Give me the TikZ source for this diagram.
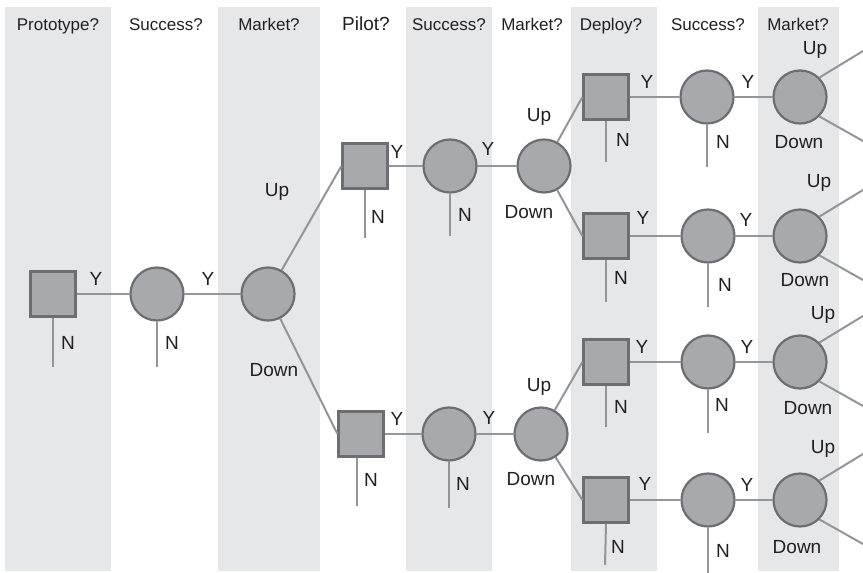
\documentclass[tikz,border=0pt]{standalone}
\usepackage{fontspec}
\setmainfont{Liberation Sans}
\usetikzlibrary{calc}
\definecolor{bandgray}{HTML}{E6E7E8}
\definecolor{nodefill}{HTML}{A7A9AC}
\definecolor{nodeline}{HTML}{6D6E71}
\definecolor{linkgray}{HTML}{939598}
\definecolor{ink}{HTML}{231F20}

\begin{document}
\begin{tikzpicture}[x=1pt,y=-1pt,
  decision/.style={rectangle, draw=nodeline, fill=nodefill, line width=2.2pt,
                   minimum size=45pt, inner sep=0pt},
  chance/.style={circle, draw=nodeline, fill=nodefill, line width=2.2pt,
                 minimum size=53pt, inner sep=0pt},
  link/.style={draw=linkgray, line width=2pt},
  hdr/.style={text=ink, font=\fontsize{17}{20}\selectfont, anchor=base, inner sep=0pt},
  yn/.style={text=ink, font=\fontsize{19}{22}\selectfont, inner sep=0pt},
  ud/.style={text=ink, font=\fontsize{19}{22}\selectfont, inner sep=0pt},
]
\useasboundingbox (0,0) rectangle (863,573);

% shaded stage columns
\fill[bandgray] (5,7) rectangle (111,571);
\fill[bandgray] (218,7) rectangle (320,571);
\fill[bandgray] (406,7) rectangle (492,571);
\fill[bandgray] (571,7) rectangle (657,571);
\fill[bandgray] (758,7) rectangle (839,571);

% stage headings
\node[hdr] (h1) at (58,30) {Prototype?};
\node[hdr] (h2) at (166,30) {Success?};
\node[hdr] (h3) at (269,30) {Market?};
\node[hdr, font=\fontsize{19}{22}\selectfont] (h4) at (366,30) {Pilot?};
\node[hdr] (h5) at (449,30) {Success?};
\node[hdr] (h6) at (532,30) {Market?};
\node[hdr] (h7) at (611,30) {Deploy?};
\node[hdr] (h8) at (708,30) {Success?};
\node[hdr] (h9) at (798,30) {Market?};

% decision (square) and chance (circle) nodes
\node[decision] (s1) at (53,294) {};
\node[chance]   (c1) at (157,294) {};
\node[chance]   (c2) at (268,294) {};

\node[decision] (p1) at (365,166) {};
\node[chance]   (c3) at (450,166) {};
\node[chance]   (c4) at (544,166) {};

\node[decision] (p2) at (361,434) {};
\node[chance]   (c5) at (449,434) {};
\node[chance]   (c6) at (541,434) {};

\node[decision] (dA) at (606,97) {};
\node[chance]   (eA) at (707,97) {};
\node[chance]   (fA) at (800,97) {};

\node[decision] (dB) at (606,236) {};
\node[chance]   (eB) at (708,236) {};
\node[chance]   (fB) at (800,236) {};

\node[decision] (dC) at (606,362) {};
\node[chance]   (eC) at (708,362) {};
\node[chance]   (fC) at (800,362) {};

\node[decision] (dD) at (606,500) {};
\node[chance]   (eD) at (708,500) {};
\node[chance]   (fD) at (800,500) {};

% free ends of the "N" stems
\coordinate (s1n) at (53,367);
\coordinate (c1n) at (157,367);
\coordinate (p1n) at (365,238);
\coordinate (c3n) at (450,236);
\coordinate (p2n) at (357,506);
\coordinate (c5n) at (449,508);
\coordinate (dAn) at (606,162);
\coordinate (eAn) at (707,167);
\coordinate (dBn) at (606,302);
\coordinate (eBn) at (708,307);
\coordinate (dCn) at (606,427);
\coordinate (eCn) at (708,433);
\coordinate (dDn) at (605,565);
\coordinate (eDn) at (708,573);

% free ends of the final Up/Down branches
\foreach \r in {A,B,C,D}{
  \coordinate (u\r) at ($(f\r.center)+(63,-46)$);
  \coordinate (w\r) at ($(f\r.center)+(63,44)$);
}

% connectors
\draw[link] (s1) -- (c1);
\draw[link] (c1) -- (c2);
\draw[link] (c2) -- (p1.west);
\draw[link] (c2) -- (p2.west);
\draw[link] (p1) -- (c3);
\draw[link] (c3) -- (c4);
\draw[link] (p2) -- (c5);
\draw[link] (c5) -- (c6);
\draw[link] (c4) -- (dA.west);
\draw[link] (c4) -- (dB.west);
\draw[link] (c6) -- (dC.west);
\draw[link] (c6) -- (dD.west);
\foreach \r in {A,B,C,D}{
  \draw[link] (d\r) -- (e\r);
  \draw[link] (e\r) -- (f\r);
  \draw[link] (f\r.45) -- (u\r);
  \draw[link] (f\r.-45) -- (w\r);
}
\foreach \n in {s1,c1,p1,c3,c5,dA,eA,dB,eB,dC,eC,dD,eD}{
  \draw[link] (\n.south) -- (\n n);
}
\draw[link] (p2.south -| p2n) -- (p2n);

% Y / N labels
\node[yn] (ys1) at (96,279) {Y};
\node[yn] (ns1) at (68,343) {N};
\node[yn] (yc1) at (208,279) {Y};
\node[yn] (nc1) at (172,343) {N};

\node[yn] (yp1) at (397,152) {Y};
\node[yn] (np1) at (378,217) {N};
\node[yn] (yc3) at (488,149) {Y};
\node[yn] (nc3) at (465,215) {N};

\node[yn] (yp2) at (397,419) {Y};
\node[yn] (np2) at (371,480) {N};
\node[yn] (yc5) at (489,418) {Y};
\node[yn] (nc5) at (463,484) {N};

\node[yn] (ydA) at (647,82) {Y};
\node[yn] (ndA) at (623,140) {N};
\node[yn] (yeA) at (748,82) {Y};
\node[yn] (neA) at (723,142) {N};

\node[yn] (ydB) at (643,218) {Y};
\node[yn] (ndB) at (621,278) {N};
\node[yn] (yeB) at (746,220) {Y};
\node[yn] (neB) at (725,285) {N};

\node[yn] (ydC) at (642,347) {Y};
\node[yn] (ndC) at (621,407) {N};
\node[yn] (yeC) at (747,347) {Y};
\node[yn] (neC) at (722,405) {N};

\node[yn] (ydD) at (645,484) {Y};
\node[yn] (ndD) at (618,547) {N};
\node[yn] (yeD) at (747,485) {Y};
\node[yn] (neD) at (723,551) {N};

% Up / Down labels
\node[ud] (uc2) at (277,192) {Up};
\node[ud] (dc2) at (274,370) {Down};
\node[ud] (uc4) at (539,117) {Up};
\node[ud] (dc4) at (529,212) {Down};
\node[ud] (uc6) at (539,387) {Up};
\node[ud] (dc6) at (531,479) {Down};
\node[ud] (ufA) at (815,50) {Up};
\node[ud] (dfA) at (799,142) {Down};
\node[ud] (ufB) at (819,183) {Up};
\node[ud] (dfB) at (805,280) {Down};
\node[ud] (ufC) at (823,315) {Up};
\node[ud] (dfC) at (808,408) {Down};
\node[ud] (ufD) at (823,449) {Up};
\node[ud] (dfD) at (797,547) {Down};
\end{tikzpicture}
\end{document}
